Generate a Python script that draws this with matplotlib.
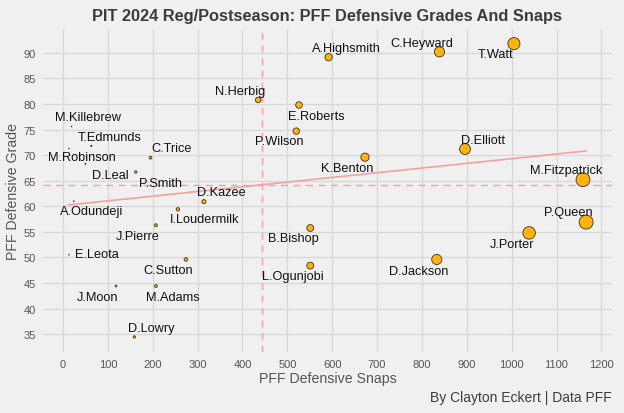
import numpy as np
import matplotlib
matplotlib.use("Agg")
import matplotlib.pyplot as plt

plt.rcParams['font.family'] = ['Liberation Sans', 'DejaVu Sans']

# player, snaps, grade
players = ["T.Watt", "C.Heyward", "A.Highsmith", "N.Herbig", "E.Roberts", "P.Wilson",
           "D.Elliott", "K.Benton", "M.Fitzpatrick", "P.Queen", "J.Porter", "D.Jackson",
           "B.Bishop", "L.Ogunjobi", "C.Trice", "D.Leal", "P.Smith", "D.Kazee",
           "I.Loudermilk", "J.Pierre", "C.Sutton", "A.Odundeji", "E.Leota", "M.Killebrew",
           "T.Edmunds", "M.Robinson", "J.Moon", "M.Adams", "D.Lowry"]
snaps = [1005, 839, 592, 435, 526, 520,
         896, 673, 1159, 1166, 1039, 833,
         551, 551, 195, 50, 162, 314,
         256, 207, 274, 24, 13, 19,
         63, 13, 118, 207, 159]
grades = [91.8, 90.2, 89.15, 80.8, 79.8, 74.7,
          71.2, 69.6, 65.2, 56.9, 54.8, 49.6,
          55.75, 48.4, 69.5, 68.3, 66.7, 60.9,
          59.4, 56.3, 49.6, 61.0, 50.5, 75.6,
          71.8, 71.3, 44.4, 44.4, 34.45]

# label offsets from each point (snaps, grade), like the repelled labels
label_off = {
    "T.Watt": (-41, -2.1), "C.Heyward": (-40, 1.8), "A.Highsmith": (39, 1.85),
    "N.Herbig": (-40, 1.7), "E.Roberts": (39, -2.1), "P.Wilson": (-39, -2.0),
    "D.Elliott": (40, 1.8), "K.Benton": (-40, -2.1), "M.Fitzpatrick": (-38, 1.9),
    "P.Queen": (-39, 1.9), "J.Porter": (-39, -2.1), "D.Jackson": (-40, -2.2),
    "B.Bishop": (-38, -2.05), "L.Ogunjobi": (-39.5, -2.1), "C.Trice": (46.5, 1.8),
    "D.Leal": (56, -2.1), "P.Smith": (55, -2.1), "D.Kazee": (38, 1.8),
    "I.Loudermilk": (59, -1.8), "J.Pierre": (-40, -2.1), "C.Sutton": (-40, -2.0),
    "A.Odundeji": (39.5, -2.0), "E.Leota": (62, 0.1), "M.Killebrew": (36.6, 1.8),
    "T.Edmunds": (41, 1.8), "M.Robinson": (28.5, -1.6), "J.Moon": (-40, -2.2),
    "M.Adams": (38.5, -2.2), "D.Lowry": (38.6, 1.65),
}

bg = '#F0F0F0'
gold = '#FFB30F'
pink = '#F4A0A0'

x = np.array(snaps, dtype=float)
y = np.array(grades, dtype=float)

fig = plt.figure(figsize=(6.24, 4.14), dpi=100, facecolor=bg)
ax = fig.add_axes([43/624, 1-352.6/414, (612-43)/624, (352.6-30)/414])
ax.set_facecolor(bg)
for s in ax.spines.values():
    s.set_visible(False)

# grid
ax.set_xticks(np.arange(0, 1201, 100))
ax.set_yticks(np.arange(35, 91, 5))
ax.grid(True, color='#D8D8D8', linewidth=0.9)
ax.set_axisbelow(True)
ax.tick_params(length=0, labelsize=8, labelcolor='#555555')
ax.tick_params(axis='x', pad=5)
ax.tick_params(axis='y', pad=5)

# expand like ggplot
xr = x.max() - x.min()
yr = y.max() - y.min()
ax.set_xlim(x.min() - 0.05*xr, x.max() + 0.05*xr)
ax.set_ylim(y.min() - 0.05*yr, y.max() + 0.05*yr)

# mean lines
ax.axhline(np.mean(y), color=pink, linestyle=(0, (5, 4)), linewidth=1.0, zorder=2)
ax.axvline(np.mean(x), color=pink, linestyle=(0, (5, 4)), linewidth=1.0, zorder=2)

# regression line
z = np.polyfit(x, y, 1)
p = np.poly1d(z)
xs = np.array([x.min(), x.max()])
ax.plot(xs, p(xs), color=pink, linewidth=1.2, zorder=2)

# points, size by snaps
d_px = 0.0115*x + 0.5
sizes = (d_px*0.72)**2
order = np.argsort(-x)
ax.scatter(x[order], y[order], s=sizes[order], color=gold, edgecolor='#3A3020',
           linewidth=0.6, zorder=3)

for name, sx, gy in zip(players, snaps, grades):
    dx, dy = label_off[name]
    ax.text(sx + dx, gy + dy, name, ha='center', va='center', fontsize=9.2,
            color='#111111', zorder=4)

fig.text(327/624, 1-17/414, "PIT 2024 Reg/Postseason: PFF Defensive Grades And Snaps",
         ha='center', va='center', fontsize=11.8, fontweight='bold', color='#3C3C3C')
fig.text(328/624, 1-379/414, "PFF Defensive Snaps", ha='center', va='center',
         fontsize=10.2, color='#555555')
fig.text(13/624, 1-191/414, "PFF Defensive Grade", ha='center', va='center',
         fontsize=10.2, color='#555555', rotation=90)
fig.text(612/624, 1-398/414, "By Clayton Eckert | Data PFF", ha='right', va='center',
         fontsize=10, color='#3C3C3C')

fig.savefig("out.png", dpi=100, facecolor=bg)
